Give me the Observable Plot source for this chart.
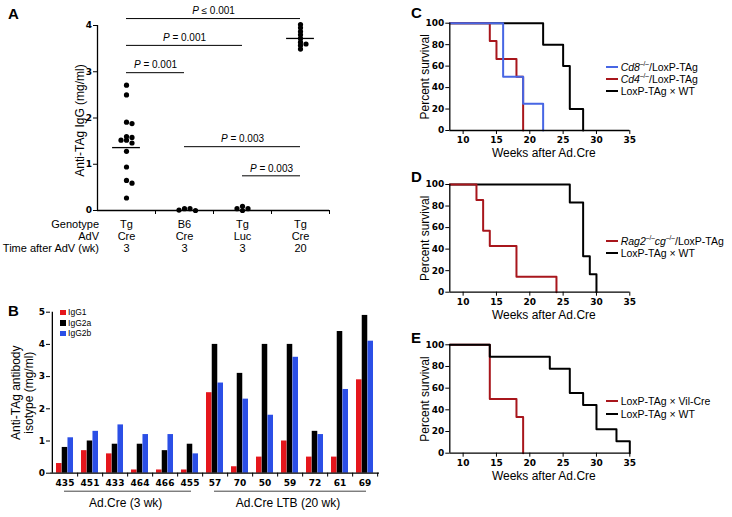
<!DOCTYPE html>
<html><head><meta charset="utf-8">
<script src="https://cdn.jsdelivr.net/npm/d3@7"></script>
<script src="https://cdn.jsdelivr.net/npm/@observablehq/plot@0.6"></script>
<style>
body{margin:0;background:#fff;}
#fig{position:relative;width:732px;height:517px;overflow:hidden;background:#fff;font-family:"Liberation Sans",Arial,sans-serif;color:#000;}
.panel{position:absolute;}
.plab{position:absolute;font-weight:bold;font-size:15px;line-height:15px;}
.legrow{position:absolute;display:flex;align-items:center;height:12px;font-size:10.5px;white-space:nowrap;}
.legrow .sw{display:inline-block;width:12.6px;height:2px;margin-right:2.4px;}
.legrow sup{font-size:6.5px;line-height:0;vertical-align:5px;}
.legB{position:absolute;display:flex;align-items:center;height:10px;font-size:8.5px;white-space:nowrap;}
.legB .sq{display:inline-block;width:5.5px;height:5.5px;margin-right:2.6px;}
</style></head>
<body><div id="fig"></div>
<script>
// ---------- Panel A data ----------
const groupsA = ["Tg Cre 3 wk", "B6 Cre 3 wk", "Tg Luc 3 wk", "Tg Cre 20 wk"];
const genotypeA = ["Tg", "B6", "Tg", "Tg"];
const advA = ["Cre", "Cre", "Luc", "Cre"];
const timeA = ["3", "3", "3", "20"];
const rowLabelsA = ["Genotype", "AdV", "Time after AdV (wk)"];
const igTgCre3 = [2.71, 2.50, 1.91, 1.88, 1.60, 1.58, 1.52, 1.52, 1.46, 1.28, 0.94, 0.65, 0.59, 0.27];
const igB6Cre3 = [0.00, 0.04, 0.01, 0.04];
const igTgLuc3 = [0.09, 0.04, 0.00, 0.04];
const igTgCre20 = [4.02, 3.95, 3.87, 3.80, 3.72, 3.64, 3.60, 3.57, 3.49];
const meanGroupA = [0, 3];
const meanValueA = [1.36, 3.72];
const pFromA = [0, 0, 0, 1, 2];
const pToA = [3, 2, 1, 3, 3];
const pLevelA = [4.15, 3.57, 2.98, 1.38, 0.75];
const pTextA = ["P ≤ 0.001", "P = 0.001", "P = 0.001", "P = 0.003", "P = 0.003"];
const yTicksA = [0, 1, 2, 3, 4];

// ---------- Panel B data ----------
const miceB = ["435", "451", "433", "464", "466", "455", "57", "70", "50", "59", "72", "61", "69"];
const isotypesB = ["IgG1", "IgG2a", "IgG2b"];
const igg1B = [0.3, 0.7, 0.6, 0.1, 0.1, 0.1, 2.5, 0.2, 0.5, 1.0, 0.5, 0.5, 2.9];
const igg2aB = [0.8, 1.0, 0.9, 0.9, 0.7, 0.9, 4.0, 3.1, 4.0, 4.0, 1.3, 4.4, 4.9];
const igg2bB = [1.1, 1.3, 1.5, 1.2, 1.2, 0.6, 2.8, 2.3, 1.8, 3.6, 1.2, 2.6, 4.1];
const cohortFromB = ["435", "57"];
const cohortToB = ["455", "69"];
const cohortLabelB = ["Ad.Cre (3 wk)", "Ad.Cre LTB (20 wk)"];
const yTicksB = [0, 1, 2, 3, 4, 5];

// ---------- Panels C, D, E data (Kaplan-Meier steps) ----------
const cd8T = [0, 16, 19, 22], cd8P = [100, 50, 25, 0];
const cd4T = [0, 14, 15, 18, 19], cd4P = [100, 83.3, 66.7, 50, 0];
const wtCT = [0, 22, 25, 26, 28], wtCP = [100, 80, 60, 20, 0];
const ragT = [0, 12, 13, 14, 18, 24], ragP = [100, 85.7, 57.1, 42.9, 14.3, 0];
const wtDT = [0, 26, 28, 29, 30], wtDP = [100, 83.3, 33.3, 16.7, 0];
const vilT = [0, 14, 18, 19], vilP = [100, 50, 33.3, 0];
const wtET = [0, 14, 23, 26, 28, 30, 33, 35], wtEP = [100, 88.9, 77.8, 55.6, 44.4, 22.2, 11.1, 0];
const weekTicks = [10, 15, 20, 25, 30, 35];
const survTicks = [0, 20, 40, 60, 80, 100];
const legendC = ["<i>Cd8</i><sup>–/–</sup>/LoxP-TAg", "<i>Cd4</i><sup>–/–</sup>/LoxP-TAg", "LoxP-TAg × WT"];
const legendD = ["<i>Rag2</i><sup>–/–</sup><i>cg</i><sup>–/–</sup>/LoxP-TAg", "LoxP-TAg × WT"];
const legendE = ["LoxP-TAg × Vil-Cre", "LoxP-TAg × WT"];

// ---------- colours ----------
const isoColors = ["#e5161c", "#000000", "#2b4fe6"];
const cBlue = "#4766e4", cRed = "#a8161c", cBlack = "#000000";

const sans = '"Liberation Sans", Arial, sans-serif';
const baseStyle = {fontFamily: '"DejaVu Sans", Verdana, sans-serif', fontSize: "9px", fontWeight: "bold",
  overflow: "visible", background: "transparent", maxWidth: "none"};
const fig = document.getElementById("fig");
function place(node, left, top) {
  const d = document.createElement("div");
  d.className = "panel"; d.style.left = left + "px"; d.style.top = top + "px";
  d.appendChild(node); fig.appendChild(d); return node;
}
function letter(ch, x, baseline) {
  const d = document.createElement("div");
  d.className = "plab"; d.textContent = ch;
  d.style.left = x + "px"; d.style.top = (baseline - 12.7) + "px";
  fig.appendChild(d);
}

// deterministic column-scatter: give each point a column level so near-equal values do not overlap
function swarmLevels(values, pxPerUnit, minGap) {
  const order = d3.range(values.length).sort((a, b) => values[b] - values[a]);
  const placed = [], level = new Array(values.length);
  for (const i of order) {
    const yi = values[i] * pxPerUnit;
    for (const k of [0, 1, -1, 2, -2, 3, -3]) {
      if (!placed.some(p => p.k === k && Math.abs(p.y - yi) < minGap)) {
        level[i] = k; placed.push({k, y: yi}); break;
      }
    }
  }
  return level;
}

// ================= Panel A =================
{
  const W = 340, H = 262, mt = 25, mb = 52;
  const pxPerUnit = (H - mt - mb) / 4;
  const dataA = [];
  [igTgCre3, igB6Cre3, igTgLuc3, igTgCre20].forEach((vals, g) => {
    const lv = swarmLevels(vals, pxPerUnit, 3);
    vals.forEach((v, i) => dataA.push({g, v, k: lv[i]}));
  });
  const levels = [...new Set(dataA.map(d => d.k))];
  const dots = levels.map(k => Plot.dot(dataA.filter(d => d.k === k),
    {x: d => d.g + 0.5, y: "v", r: 2.6, fill: "black", stroke: "none", dx: k * 5.5}));
  const means = meanGroupA.map((g, i) => ({g, v: meanValueA[i]}));
  const brackets = pFromA.map((a, i) => ({a, b: pToA[i], y: pLevelA[i], t: pTextA[i]}));
  const rows = genotypeA.map((g, i) => ({i, t: `${g}\n${advA[i]}\n${timeA[i]}`}));
  const plotA = Plot.plot({
    width: W, height: H, marginLeft: 97, marginRight: 11, marginTop: mt, marginBottom: mb,
    style: baseStyle,
    x: {domain: [0, groupsA.length]},
    y: {domain: [0, 4]},
    marks: [
      Plot.ruleY([0], {x1: 0, x2: groupsA.length, strokeWidth: 1.3}),
      Plot.ruleX([0], {y1: 0, y2: 4, strokeWidth: 1.3}),
      Plot.axisY({ticks: yTicksA, tickFormat: "d", tickSize: 4, tickPadding: 1.5, label: null}),
      Plot.axisX({ticks: d3.range(1, groupsA.length + 1), tickSize: 4, tickFormat: () => "", label: null}),
      ...dots,
      Plot.ruleY(means, {x1: d => d.g + 0.5 - 0.24, x2: d => d.g + 0.5 + 0.24, y: "v", strokeWidth: 1.3}),
      Plot.ruleY(brackets, {x1: d => d.a + 0.5, x2: d => d.b + 0.5, y: "y", strokeWidth: 1}),
      Plot.text(brackets, {x: d => (d.a + d.b) / 2 + 0.5, y: "y", text: "t", dy: -7.5,
        fontSize: 10, fontFamily: sans, fontWeight: "normal"}),
      Plot.text(rows, {x: d => d.i + 0.5, y: 0, text: "t", lineAnchor: "top", lineHeight: 1.1, dy: 8.5,
        fontSize: 11, fontFamily: sans, fontWeight: "normal"}),
      Plot.text([rowLabelsA.join("\n")], {x: 0, y: 0, textAnchor: "end", lineAnchor: "top", lineHeight: 1.1,
        dy: 8.5, dx: 1.5, fontSize: 11, fontFamily: sans, fontWeight: "normal"}),
      Plot.text(["Anti-TAg IgG (mg/ml)"], {frameAnchor: "left", textAnchor: "middle", rotate: -90, dx: -17, dy: 2.5,
        fontSize: 12, fontFamily: sans, fontWeight: "normal"})
    ]
  });
  d3.select(plotA).selectAll("text").each(function () {
    const s = this.textContent;
    if (/^P [=≤]/.test(s)) {
      const sel = d3.select(this);
      sel.text(null);
      sel.append("tspan").attr("font-style", "italic").text("P");
      sel.append("tspan").text(s.slice(1));
    }
  });
  place(plotA, 0, 0);
}

// ================= Panel B =================
{
  const W = 390, H = 217, ml = 50, mr = 11;
  const padIn = 0.32, padOut = 0.16;
  const step = (W - mr - ml) / (miceB.length - padIn + 2 * padOut);
  const bw = step * (1 - padIn), w3 = bw / 3;
  const series = [igg1B, igg2aB, igg2bB];
  const bars = isotypesB.map((iso, k) => Plot.barY(miceB.map((m, i) => ({m, v: series[k][i]})),
    {x: "m", y: "v", fill: isoColors[k], insetLeft: k * w3, insetRight: (2 - k) * w3}));
  const cohortMarks = cohortFromB.flatMap((a, i) => {
    const ia = miceB.indexOf(a), ib = miceB.indexOf(cohortToB[i]);
    const mid = (ia + ib) / 2, base = Math.floor(mid);
    return [
      Plot.ruleY([0], {x1: () => a, x2: () => cohortToB[i], dy: 18, insetLeft: 8, insetRight: 7,
        stroke: "#444", strokeWidth: 1}),
      Plot.text([cohortLabelB[i]], {x: () => miceB[base], y: 0, dx: (mid - base) * step - 2, dy: 29.5,
        fontSize: 12, fontFamily: sans, fontWeight: "normal"})
    ];
  });
  const plotB = Plot.plot({
    width: W, height: H, marginLeft: ml, marginRight: mr, marginTop: 11.7, marginBottom: 44.3,
    style: baseStyle,
    x: {domain: miceB, paddingInner: padIn, paddingOuter: padOut},
    y: {domain: [0, 5]},
    marks: [
      ...bars,
      Plot.ruleY([0], {strokeWidth: 1.3}),
      Plot.ruleX([miceB[0]], {dx: -(padOut * step + bw / 2), strokeWidth: 1.3}),
      Plot.ruleX(miceB, {dx: step / 2, y1: 0, y2: -0.12, strokeWidth: 1}),
      Plot.axisY({ticks: yTicksB, tickFormat: "d", tickSize: 4, tickPadding: 1.5, label: null}),
      Plot.axisX({tickSize: 0, tickPadding: 6.5, label: null}),
      ...cohortMarks,
      Plot.text(["Anti-TAg antibody\nisotype (mg/ml)"], {frameAnchor: "left", textAnchor: "middle", rotate: -90,
        dx: -28.5, lineHeight: 1.08, fontSize: 12, fontFamily: sans, fontWeight: "normal"})
    ]
  });
  place(plotB, 0, 300);
  isotypesB.forEach((iso, k) => {
    const r = document.createElement("div");
    r.className = "legB";
    r.style.left = "60px"; r.style.top = (312.3 + k * 10.5 - 5) + "px";
    r.innerHTML = `<span class="sq" style="background:${isoColors[k]}"></span>${iso}`;
    fig.appendChild(r);
  });
}

// ================= Panels C, D, E =================
function survPlot(top, mt, mb, series) {
  return place(Plot.plot({
    width: 240, height: 165, marginLeft: 49.3, marginRight: 10.7, marginTop: mt, marginBottom: mb,
    style: baseStyle,
    x: {domain: [8, 35], clamp: true},
    y: {domain: [0, 100]},
    marks: [
      ...series.map(s => Plot.line(s.t.map((t, i) => ({t, p: s.p[i]})),
        {x: "t", y: "p", stroke: s.color, strokeWidth: 2, curve: "step-after"})),
      Plot.ruleY([0], {x1: 8, x2: 35, strokeWidth: 1.3}),
      Plot.ruleX([8], {y1: 0, y2: 100, strokeWidth: 1.3}),
      Plot.axisX({ticks: weekTicks, tickFormat: "d", tickSize: 4, tickPadding: 2, label: null}),
      Plot.axisY({ticks: survTicks, tickFormat: "d", tickSize: 4, tickPadding: 1.5, label: null}),
      Plot.text(["Percent survival"], {frameAnchor: "left", textAnchor: "middle", rotate: -90, dx: -24.3,
        fontSize: 12, fontFamily: sans, fontWeight: "normal"}),
      Plot.text(["Weeks after Ad.Cre"], {frameAnchor: "bottom", lineAnchor: "middle", dy: 23, dx: 4,
        fontSize: 12, fontFamily: sans, fontWeight: "normal"})
    ]
  }), 400, top);
}
function legend(items, colors, x, yCenters) {
  items.forEach((html, i) => {
    const r = document.createElement("div");
    r.className = "legrow";
    r.style.left = x + "px"; r.style.top = (yCenters[i] - 6) + "px";
    r.innerHTML = `<span class="sw" style="background:${colors[i]}"></span><span>${html}</span>`;
    fig.appendChild(r);
  });
}

survPlot(0, 22.7, 35, [
  {t: wtCT, p: wtCP, color: cBlack},
  {t: cd4T, p: cd4P, color: cRed},
  {t: cd8T, p: cd8P, color: cBlue}
]);
legend(legendC, [cBlue, cRed, cBlack], 605.7, [66.7, 79.0, 91.0]);

survPlot(160, 24, 33.3, [
  {t: wtDT, p: wtDP, color: cBlack},
  {t: ragT, p: ragP, color: cRed}
]);
legend(legendD, [cRed, cBlack], 605.7, [240.7, 253.3]);

survPlot(320, 24.3, 32.3, [
  {t: vilT, p: vilP, color: cRed},
  {t: wtET, p: wtEP, color: cBlack}
]);
legend(legendE, [cRed, cBlack], 605.7, [400.7, 414]);

letter("A", 8, 19);
letter("B", 8, 315.4);
letter("C", 411, 17.4);
letter("D", 411, 181.4);
letter("E", 411, 342.4);
</script>
</body></html>
